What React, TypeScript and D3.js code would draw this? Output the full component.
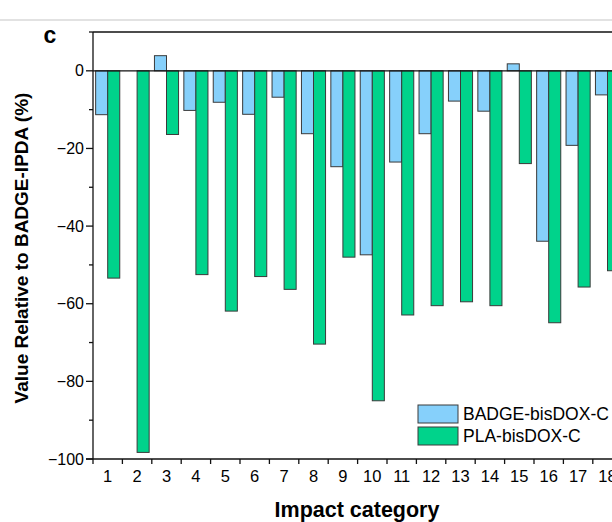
import * as d3 from 'd3';

const categories = ['1', '2', '3', '4', '5', '6', '7', '8', '9', '10', '11', '12', '13', '14', '15', '16', '17', '18'];
const badgeValues = [-11.3, 0, 3.9, -10.2, -8.1, -11.2, -6.8, -16.2, -24.7, -47.4, -23.5, -16.2, -7.8, -10.4, 1.8, -43.9, -19.2, -6.2];
const plaValues = [-53.4, -98.3, -16.4, -52.5, -61.9, -53, -56.3, -70.4, -48, -85, -62.9, -60.5, -59.5, -60.5, -23.9, -64.9, -55.7, -51.5];
const seriesNames = ['BADGE-bisDOX-C', 'PLA-bisDOX-C'];
const yTicks = [0, -20, -40, -60, -80, -100];
const yMinorTicks = [10, -10, -30, -50, -70, -90];

const colors = { 'BADGE-bisDOX-C': '#86d0fb', 'PLA-bisDOX-C': '#00d38b' };

const App = () => {
  const width = 612;
  const height = 522;
  const left = 93;
  const top = 32;
  const bottom = 459;
  const right = left + 18 * 29.4; // plot runs past the right edge of the picture

  const x = d3.scaleBand<string>()
    .domain(categories)
    .range([left, right])
    .paddingInner(0.18)
    .paddingOuter(0.09);

  const xs = d3.scaleBand<string>()
    .domain(seriesNames)
    .range([0, x.bandwidth()]);

  const y = d3.scaleLinear()
    .domain([-100, 10])
    .range([bottom, top]);

  const step = x.step();
  const font = '"Liberation Sans", Arial, sans-serif';

  const rows = categories.map((c, i) => ({ c, vals: [badgeValues[i], plaValues[i]] }));

  return (
    <svg width={width} height={height} style={{ position: 'absolute', left: 0, top: 0, background: '#fff' }} fontFamily={font}>
      {/* thin divider at top */}
      <line x1={0} x2={width} y1={20} y2={20} stroke="#d9d9d9" strokeWidth={1.5} />

      <text x={50} y={43} fontSize={23} fontWeight="bold" textAnchor="middle">c</text>

      {/* bars */}
      {rows.map((r) =>
        r.vals.map((v, j) => {
          const name = seriesNames[j];
          if (v === 0) return null;
          const y0 = y(Math.max(v, 0));
          const y1 = y(Math.min(v, 0));
          return (
            <rect
              key={r.c + name}
              x={(x(r.c) ?? 0) + (xs(name) ?? 0)}
              y={y0}
              width={xs.bandwidth()}
              height={y1 - y0}
              fill={colors[name]}
              stroke="#3a3a3a"
              strokeWidth={1}
            />
          );
        })
      )}

      {/* zero line */}
      <line x1={left} x2={width} y1={y(0)} y2={y(0)} stroke="#111" strokeWidth={1.3} />

      {/* frame */}
      <line x1={left} x2={width} y1={top} y2={top} stroke="#111" strokeWidth={1.3} />
      <line x1={left} x2={left} y1={top} y2={bottom} stroke="#111" strokeWidth={1.3} />
      <line x1={left - 7} x2={width} y1={bottom} y2={bottom} stroke="#111" strokeWidth={1.3} />

      {/* y ticks */}
      {yTicks.map((t) => (
        <g key={'yt' + t}>
          <line x1={left - 7} x2={left} y1={y(t)} y2={y(t)} stroke="#111" strokeWidth={1.3} />
          <text x={left - 9} y={y(t)} dy="0.35em" fontSize={16} textAnchor="end">
            {t < 0 ? '\u2212' + Math.abs(t) : t}
          </text>
        </g>
      ))}
      {yMinorTicks.map((t) => (
        <line key={'ym' + t} x1={left - 4} x2={left} y1={y(t)} y2={y(t)} stroke="#111" strokeWidth={1.3} />
      ))}

      {/* x ticks at category boundaries */}
      {categories.map((c) => {
        const bx = (x(c) ?? 0) - (step * x.paddingInner()) / 2;
        return <line key={'xb' + c} x1={bx} x2={bx} y1={bottom} y2={bottom + 5} stroke="#111" strokeWidth={1.3} />;
      })}
      {categories.map((c) => (
        <text key={'xl' + c} x={(x(c) ?? 0) + x.bandwidth() / 2} y={bottom + 23} fontSize={16.5} textAnchor="middle">
          {c}
        </text>
      ))}

      {/* axis titles */}
      <text x={357} y={517} fontSize={21.5} fontWeight="bold" textAnchor="middle">Impact category</text>
      <text
        transform={`translate(28, 248) rotate(-90)`}
        fontSize={19}
        fontWeight="bold"
        textAnchor="middle"
      >
        Value Relative to BADGE-IPDA (%)
      </text>

      {/* legend */}
      {seriesNames.map((name, i) => (
        <g key={'lg' + name} transform={`translate(418, ${405 + i * 22})`}>
          <rect width={40} height={18} fill={colors[name]} stroke="#3a3a3a" strokeWidth={1} />
          <text x={45} y={9} dy="0.35em" fontSize={17.5}>{name}</text>
        </g>
      ))}
    </svg>
  );
};

export default App;
